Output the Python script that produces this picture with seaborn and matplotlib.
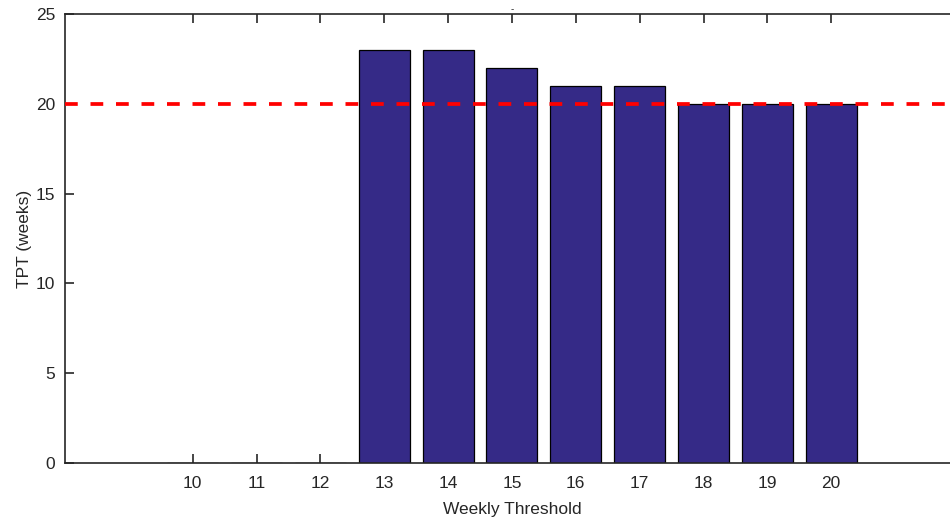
import pandas as pd
import matplotlib
matplotlib.use("Agg")
import matplotlib.pyplot as plt
import seaborn as sns

# data
thresholds = ["10", "11", "12", "13", "14", "15", "16", "17", "18", "19", "20"]
tpt_weeks = [0, 0, 0, 23, 23, 22, 21, 21, 20, 20, 20]
target_weeks = 20

df = pd.DataFrame({"threshold": thresholds, "tpt": tpt_weeks})

sns.set_style("white")
plt.rcParams["font.family"] = ["Liberation Sans", "DejaVu Sans"]
ink = "#262626"

fig = plt.figure(figsize=(9.5, 5.22), dpi=100)
# axes runs past the right edge, as in the original export
ax = fig.add_axes([0.0684, 0.113, 0.941, 0.8602])

sns.barplot(data=df, x="threshold", y="tpt", order=thresholds, color="#352a87",
            saturation=1, width=0.8, edgecolor="black", linewidth=0.9, ax=ax)
# target line
ax.axhline(target_weeks, color="red", linestyle=(0, (3.4, 3.4)), linewidth=2.7, zorder=5)

ax.set_xlim(-2, 12)
ax.set_ylim(0, 25)
ax.set_yticks([0, 5, 10, 15, 20, 25])
ax.set_xlabel("Weekly Threshold", fontsize=12.5, color=ink, labelpad=8)
ax.set_ylabel("TPT (weeks)", fontsize=12.5, color=ink, labelpad=3)
ax.set_title("-", fontsize=7, color=ink, pad=1)

ax.tick_params(axis="both", direction="in", length=6.5, width=1.2, colors=ink,
               labelsize=12.5, top=True, right=True, bottom=True, left=True)
ax.tick_params(axis="x", pad=9.5)
ax.tick_params(axis="y", pad=7)
for s in ax.spines.values():
    s.set_color(ink)
    s.set_linewidth(1.2)

fig.savefig("out.png", dpi=100)
